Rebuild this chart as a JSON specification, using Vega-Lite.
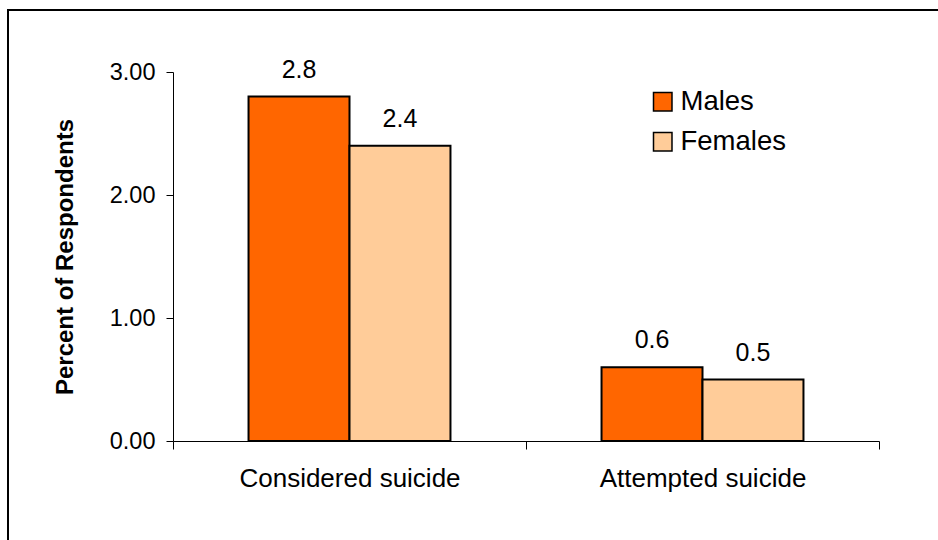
{
  "$schema": "https://vega.github.io/schema/vega-lite/v6.json",
  "width": 940,
  "height": 540,
  "autosize": {"type": "none"},
  "padding": {"left": 8, "top": 10, "right": -10, "bottom": -10},
  "background": "white",
  "config": {
    "view": {"stroke": "black", "strokeWidth": 2},
    "font": "Liberation Sans",
    "axis": {"grid": false, "domainColor": "black", "tickColor": "black", "labelColor": "black", "titleColor": "black", "labelFont": "Liberation Sans", "titleFont": "Liberation Sans", "domainWidth": 1, "tickWidth": 1}
  },
  "data": {"values": [
    {"behavior": "Considered suicide", "sex": "Males", "pct": 2.8},
    {"behavior": "Considered suicide", "sex": "Females", "pct": 2.4},
    {"behavior": "Attempted suicide", "sex": "Males", "pct": 0.6},
    {"behavior": "Attempted suicide", "sex": "Females", "pct": 0.5}
  ]},
  "encoding": {
    "x": {"field": "behavior", "type": "nominal", "sort": ["Considered suicide", "Attempted suicide"],
      "scale": {"range": [165, 871], "paddingInner": 0, "paddingOuter": 0},
      "axis": {"title": null, "orient": "bottom", "offset": -109, "labelAngle": 0, "labelLimit": 0, "tickBand": "extent", "tickSize": 8, "labelFontSize": 26, "labelPadding": 16}},
    "xOffset": {"field": "sex", "type": "nominal", "sort": ["Males", "Females"], "scale": {"paddingInner": 0, "paddingOuter": 0.748}},
    "y": {"field": "pct", "type": "quantitative",
      "scale": {"domain": [0, 3], "range": [431, 62], "nice": false, "zero": true},
      "axis": {"title": "Percent of Respondents", "orient": "left", "offset": -165, "values": [0, 1, 2, 3], "format": ".2f", "tickSize": 7, "labelPadding": 11, "labelFontSize": 23.5, "titleFontSize": 24, "titleFontWeight": "bold", "titlePadding": 32}}
  },
  "layer": [
    {"mark": {"type": "bar", "stroke": "black", "strokeWidth": 2},
      "encoding": {"fill": {"field": "sex", "type": "nominal", "sort": ["Males", "Females"],
        "scale": {"domain": ["Males", "Females"], "range": ["#FF6600", "#FFCC99"]},
        "legend": {"title": null, "orient": "none", "legendX": 641, "legendY": 78, "symbolType": "square", "symbolSize": 342, "symbolStrokeColor": "black", "symbolStrokeWidth": 1.5, "symbolOpacity": 1, "labelFontSize": 27.5, "labelOffset": 4, "rowPadding": 11, "padding": 0, "labelColor": "black", "labelFont": "Liberation Sans"}}}},
    {"mark": {"type": "text", "baseline": "alphabetic", "dy": -19, "fontSize": 25, "color": "black", "font": "Liberation Sans"},
      "encoding": {"text": {"field": "pct", "type": "quantitative", "format": ".1f"}}}
  ]
}
